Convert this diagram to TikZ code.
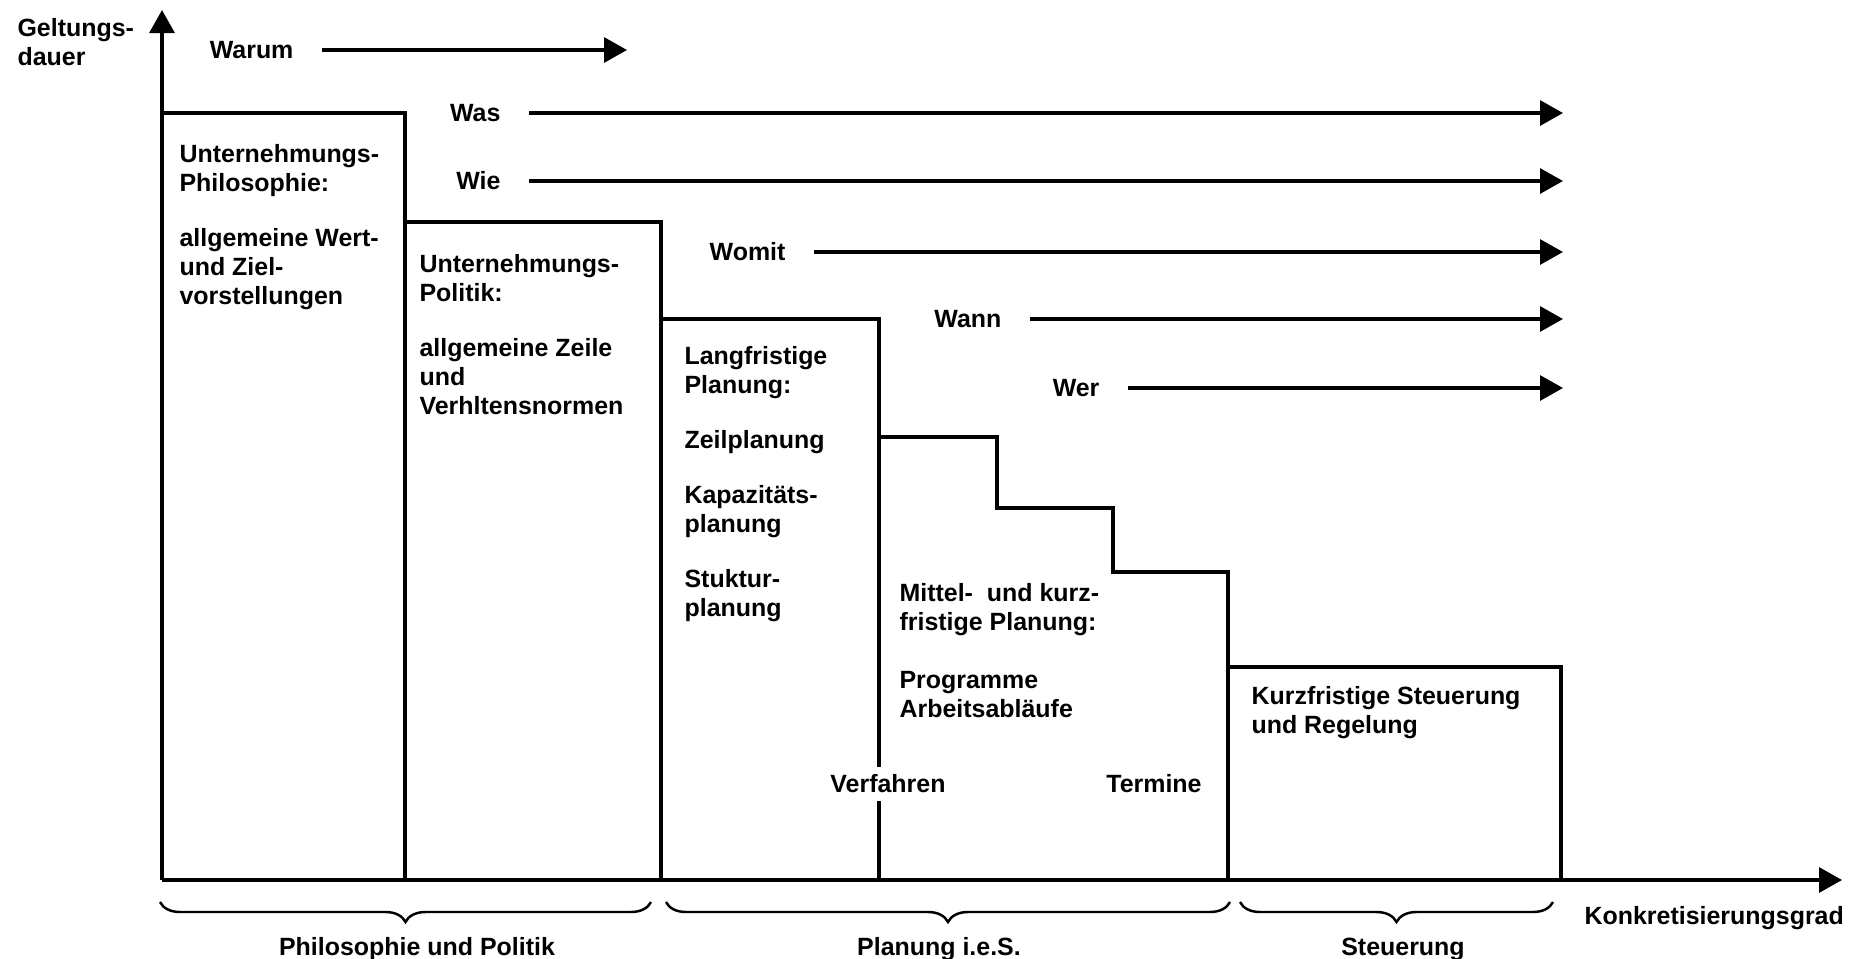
\documentclass[tikz,border=0pt]{standalone}
\usepackage{fontspec}
\setmainfont{Liberation Sans}
\usepackage{tikz}
\usetikzlibrary{arrows.meta, positioning, decorations.pathreplacing}
\tikzstyle{txt} = [anchor = north west, inner sep = 0, align = left, font = \fontsize{14.2}{16.5}\selectfont\bfseries]
\tikzstyle{frage} = [anchor = east, inner xsep = 0.54cm, inner ysep = 0, font = \fontsize{14.2}{16.5}\selectfont\bfseries]
\tikzstyle{schild} = [inner sep = 0, font = \fontsize{14.2}{16.5}\selectfont\bfseries]
\tikzstyle{klammer} = [decorate, decoration = {brace, mirror, amplitude = 0.4cm}, line width = 1.4pt]

\begin{document}
\begin{tikzpicture}[x = 0.02cm, y = -0.02cm, line width = 1.8pt, >={Triangle[length = 0.46cm, width = 0.5cm]}]
\useasboundingbox (0,0) rectangle (1864,958);

\coordinate (o) at (162,880);
\coordinate (ytop) at (162,10);
\coordinate (xend) at (1842,880);

\draw[->] (o) -- (ytop);
\draw[->] (o) -- (xend);

\draw (162,113) -- (405,113) -- (405,880);
\draw (405,222) -- (661,222) -- (661,880);
\draw (661,319) -- (879,319) -- (879,880);
\draw (879,437) -- (997,437) -- (997,508) -- (1113,508) -- (1113,572) -- (1228,572) -- (1228,880);
\draw (1228,667) -- (1561,667) -- (1561,880);

\node (gelt) [txt] at (16,17) {Geltungs-\\dauer};
\node (konk) [txt] at (1583,905) {Konkretisierungsgrad};

\node (phil) [txt] at (178,143) {Unternehmungs-\\Philosophie:\\[0.52cm]allgemeine Wert-\\und Ziel-\\vorstellungen};
\node (poli) [txt] at (418,253) {Unternehmungs-\\Politik:\\[0.52cm]allgemeine Zeile\\und\\Verhltensnormen};
\node (lang) [txt] at (683,345) {Langfristige\\Planung:\\[0.52cm]Zeilplanung\\[0.52cm]Kapazitäts-\\planung\\[0.52cm]Stuktur-\\planung};
\node (mittel) [txt] at (898,582) {Mittel-\ \ und kurz-\\fristige Planung:\\[0.58cm]Programme\\Arbeitsabläufe};
\node (kurz) [txt] at (1250,685) {Kurzfristige Steuerung\\und Regelung};

\node (verf) [schild, fill = white, inner sep = 0.16cm] at (888,784) {Verfahren};
\node (term) [schild] at (1154,784) {Termine};

\node (warum) [frage] at (322,50) {Warum};
\node (was) [frage] at (529,113) {Was};
\node (wie) [frage] at (529,181) {Wie};
\node (womit) [frage] at (814,252) {Womit};
\node (wann) [frage] at (1030,319) {Wann};
\node (wer) [frage] at (1128,388) {Wer};

\coordinate (warumE) at (627,50);
\coordinate (wasE) at (1563,113);
\coordinate (wieE) at (1563,181);
\coordinate (womitE) at (1563,252);
\coordinate (wannE) at (1563,319);
\coordinate (werE) at (1563,388);

\draw[->] (warum) -- (warumE);
\draw[->] (was) -- (wasE);
\draw[->] (wie) -- (wieE);
\draw[->] (womit) -- (womitE);
\draw[->] (wann) -- (wannE);
\draw[->] (wer) -- (werE);

\coordinate (k1a) at (160,902);
\coordinate (k1b) at (651,902);
\coordinate (k2a) at (666,902);
\coordinate (k2b) at (1230,902);
\coordinate (k3a) at (1240,902);
\coordinate (k3b) at (1553,902);

\draw[klammer] (k1a) -- (k1b);
\draw[klammer] (k2a) -- (k2b);
\draw[klammer] (k3a) -- (k3b);

\node (philpol) [schild, anchor = north] at (417,936) {Philosophie und Politik};
\node (planung) [schild, anchor = north] at (939,936) {Planung i.e.S.};
\node (steuer) [schild, anchor = north] at (1403,936) {Steuerung};

\end{tikzpicture}
\end{document}
